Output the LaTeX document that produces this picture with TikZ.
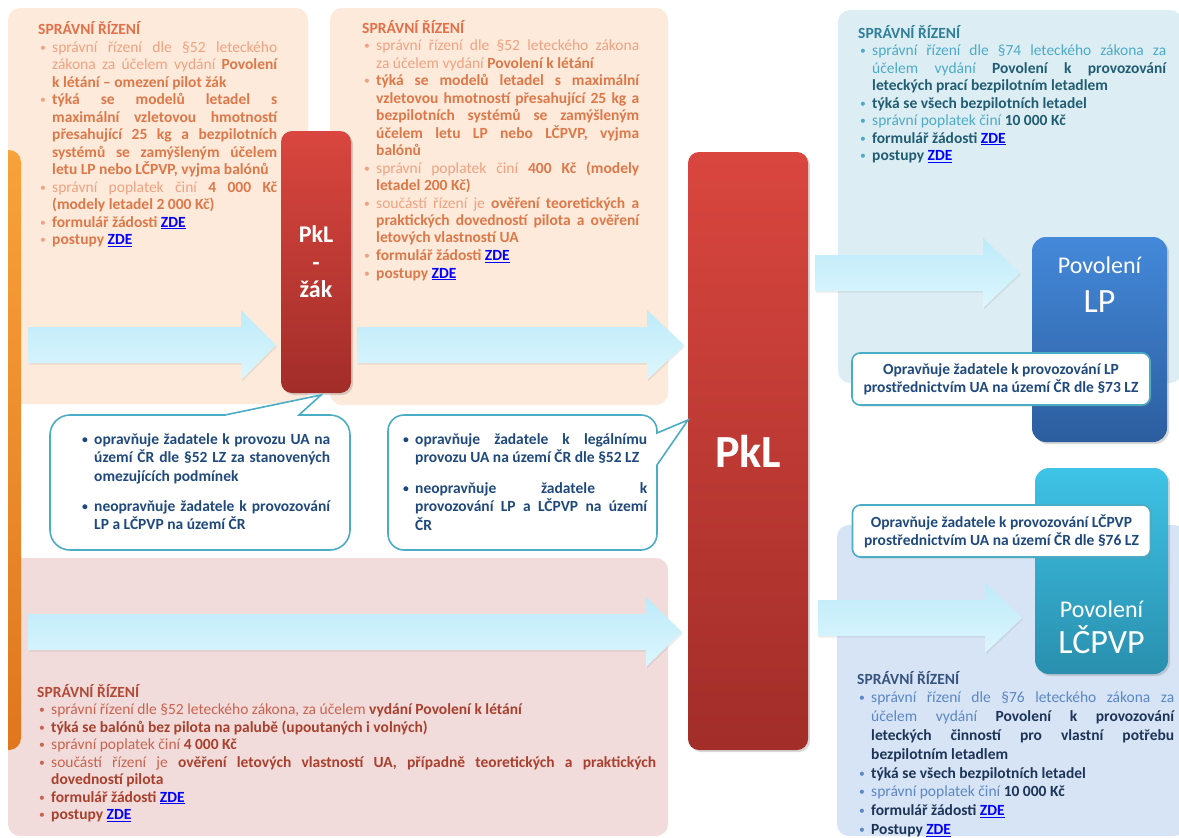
\documentclass[tikz,border=0pt]{standalone}
\usepackage{fontspec}
\setmainfont{Carlito}
\usetikzlibrary{shadows}
\definecolor{peach}{HTML}{FDEADA}
\definecolor{tpanel}{HTML}{DCEEF4}
\definecolor{brpanel}{HTML}{D7E4F6}
\definecolor{blpanel}{HTML}{F2DCDB}
\definecolor{ohead}{HTML}{E2704A}
\definecolor{onorm}{HTML}{F0A282}
\definecolor{obold}{HTML}{DD7849}
\definecolor{rhead}{HTML}{B24A38}
\definecolor{rnorm}{HTML}{C8634F}
\definecolor{rbold}{HTML}{A8402D}
\definecolor{thead}{HTML}{2F7E9A}
\definecolor{tnorm}{HTML}{4DAAC8}
\definecolor{tbold}{HTML}{215D72}
\definecolor{bhead}{HTML}{37537E}
\definecolor{bnorm}{HTML}{5B87C5}
\definecolor{bbold}{HTML}{1C3457}
\definecolor{ctext}{HTML}{1F497D}
\definecolor{linkc}{HTML}{0000FF}
\definecolor{bubbleline}{HTML}{4BACC6}
\definecolor{arrtop}{HTML}{BDEBF9}
\definecolor{arrbot}{HTML}{DDF6FD}
\definecolor{redtop}{HTML}{D9463F}
\definecolor{redbot}{HTML}{A22D29}
\definecolor{lptop}{HTML}{4489DA}
\definecolor{lpbot}{HTML}{2C5E9F}
\definecolor{lctop}{HTML}{3EC3E6}
\definecolor{lcbot}{HTML}{2A8FAE}
\definecolor{ortop}{HTML}{F8A23A}
\definecolor{orbot}{HTML}{E0761E}
\colorlet{headc}{black}
\colorlet{boldc}{black}
\newcommand\bul{\raisebox{0.12ex}{\scalebox{0.75}{\textbullet}}}
\newcommand\itmf{\hangindent=14pt\hangafter=1\makebox[14pt][l]{\hspace{2pt}\bul}}
\newcommand\itm{\par\hangindent=14pt\hangafter=1\noindent\makebox[14pt][l]{\hspace{2pt}\bul}}
\newcommand\hd[1]{{\bfseries\color{headc}#1}\par}
\newcommand\B[1]{{\bfseries\color{boldc}#1}}
\newcommand\zde{{\bfseries\color{linkc}\underline{ZDE}}}
\newcommand\parsetup{\tolerance=10000\hbadness=10000\hyphenpenalty=10000\relax}
\newcommand\barrow[4]{%
  \path[arrowshape] (#1,#4-18) -- (#2,#4-18) -- (#2,#4-35) -- (#3,#4) -- (#2,#4+35) -- (#2,#4+18) -- (#1,#4+18) -- cycle;}
\begin{document}
\begin{tikzpicture}[x=1pt,y=-1pt,
  txt/.style={anchor=base west, inner sep=0pt, text width=#1, align=justify,
    font=\fontsize{15.5}{17.5}\selectfont},
  ocol/.style={text=onorm, execute at begin node={\parsetup\colorlet{headc}{ohead}\colorlet{boldc}{obold}}},
  rcol/.style={text=rnorm, execute at begin node={\parsetup\colorlet{headc}{rhead}\colorlet{boldc}{rbold}}},
  tcol/.style={text=tnorm, execute at begin node={\parsetup\colorlet{headc}{thead}\colorlet{boldc}{tbold}}},
  bcol/.style={text=bnorm, execute at begin node={\parsetup\colorlet{headc}{bhead}\colorlet{boldc}{bbold}}},
  ccol/.style={text=ctext, execute at begin node={\parsetup\bfseries}},
  arrowshape/.style={top color=arrtop, bottom color=arrbot, draw=none,
    drop shadow={opacity=0.15, shadow xshift=1pt, shadow yshift=-1.5pt}},
  redbox/.style={rounded corners=11pt, top color=redtop, bottom color=redbot, draw=none,
    text=white, align=center, drop shadow={opacity=0.3, shadow xshift=2pt, shadow yshift=-2pt}},
  lpbox/.style={rounded corners=14pt, top color=lptop, bottom color=lpbot, draw=none,
    drop shadow={opacity=0.3, shadow xshift=2pt, shadow yshift=-2pt}},
  lcbox/.style={rounded corners=14pt, top color=lctop, bottom color=lcbot, draw=none,
    drop shadow={opacity=0.3, shadow xshift=2pt, shadow yshift=-2pt}},
  boxlabel/.style={anchor=base, text=white, inner sep=0pt},
  bubble/.style={draw=bubbleline, line width=1.6pt, fill=white},
  callbox/.style={draw=bubbleline, line width=1.6pt, fill=white, rounded corners=8pt,
    minimum width=298pt, minimum height=52pt, align=center, text=ctext,
    font=\bfseries\fontsize{15.5}{18}\selectfont,
    drop shadow={opacity=0.25, shadow xshift=1.5pt, shadow yshift=-1.5pt}}
]
\useasboundingbox (0,0) rectangle (1179,838);
\fill[white] (0,0) rectangle (1179,838);

% panels
\fill[peach, rounded corners=12pt] (8,8) rectangle (308,404);
\fill[peach, rounded corners=12pt] (330,8) rectangle (668,405);
\fill[tpanel, rounded corners=12pt] (838,10) rectangle (1182,383);
\fill[blpanel, rounded corners=12pt] (8,558) rectangle (668,836);
\fill[brpanel, rounded corners=12pt] (837,525) rectangle (1186,836);

% orange bar
\begin{scope}
  \clip (8,0) rectangle (60,838);
  \shade[top color=ortop, bottom color=orbot, rounded corners=12pt] (-30,150) rectangle (21,750);
\end{scope}

% block arrows
\barrow{28}{241}{276}{345}
\barrow{357}{647}{684}{345}
\barrow{28}{646}{682}{632}
\barrow{815}{983}{1020}{273}
\barrow{818}{985}{1022}{618}

% boxes
\node[redbox, minimum width=70pt, minimum height=262pt, font=\bfseries\fontsize{24}{27.5}\selectfont] (pkz) at (316,262) {PkL\\-\\žák};
\node[redbox, minimum width=120pt, minimum height=598pt, font=\bfseries\fontsize{46}{46}\selectfont] (pkl) at (748,451) {PkL};
\node[lpbox, minimum width=135pt, minimum height=205pt] (lp) at (1099.5,339.5) {};
\node[boxlabel, font=\fontsize{24}{24}\selectfont] (lpt1) at (1099.5,273) {Povolení};
\node[boxlabel, font=\fontsize{34}{34}\selectfont] (lpt2) at (1099.5,312) {LP};
\node[lcbox, minimum width=133pt, minimum height=206pt] (lc) at (1101.5,571) {};
\node[boxlabel, font=\fontsize{24}{24}\selectfont] (lct1) at (1101.5,617) {Povolení};
\node[boxlabel, font=\fontsize{34}{34}\selectfont] (lct2) at (1101.5,653) {LČPVP};

% speech bubbles
\draw[bubble] (225,415) -- (321,395) -- (299,415) {[rounded corners=20pt] -- (350,415) -- (350,550) -- (50,550) -- (50,415)} -- cycle;
\draw[bubble] (657,433) -- (688,420) -- (657,465) {[rounded corners=16pt] -- (657,550) -- (388,550) -- (388,415) -- (657,415)} -- cycle;

\node[callbox] (lpc) at (1001,379) {Opravňuje žadatele k provozování LP\\prostřednictvím UA na území ČR dle §73 LZ};
\node[callbox] (lcc) at (1001.5,531) {Opravňuje žadatele k provozování LČPVP\\prostřednictvím UA na území ČR dle §76 LZ};

% texts
\node[txt=239pt, ocol] (t1) at (38,34.5) {\hd{SPRÁVNÍ ŘÍZENÍ}%
\itm správní řízení dle §52 leteckého\linebreak zákona za účelem vydání \B{Povolení}\linebreak \B{k létání – omezení pilot žák}
\itm \B{týká se modelů letadel s\linebreak maximální vzletovou hmotností\linebreak přesahující 25 kg a bezpilotních\linebreak systémů se zamýšleným účelem\linebreak letu LP nebo LČPVP, vyjma balónů}
\itm správní poplatek činí \B{4 000 Kč\linebreak (modely letadel 2 000 Kč)}
\itm \B{formulář žádosti} \zde
\itm \B{postupy} \zde\par};

\node[txt=277pt, ocol] (t2) at (362,33) {\hd{SPRÁVNÍ ŘÍZENÍ}%
\itm správní řízení dle §52 leteckého zákona\linebreak za účelem vydání \B{Povolení k létání}
\itm \B{týká se modelů letadel s maximální\linebreak vzletovou hmotností přesahující 25 kg a\linebreak bezpilotních systémů se zamýšleným\linebreak účelem letu LP nebo LČPVP, vyjma\linebreak balónů}
\itm správní poplatek činí \B{400 Kč (modely\linebreak letadel 200 Kč)}
\itm součástí řízení je \B{ověření teoretických a\linebreak praktických dovedností pilota a ověření\linebreak letových vlastností UA}
\itm \B{formulář žádosti} \zde
\itm \B{postupy} \zde\par};

\node[txt=308pt, tcol] (t3) at (858,38) {\hd{SPRÁVNÍ ŘÍZENÍ}%
\itm správní řízení dle §74 leteckého zákona za\linebreak účelem vydání \B{Povolení k provozování\linebreak leteckých prací bezpilotním letadlem}
\itm \B{týká se všech bezpilotních letadel}
\itm správní poplatek činí \B{10 000 Kč}
\itm \B{formulář žádosti} \zde
\itm \B{postupy} \zde\par};

\node[txt=619pt, rcol] (t4) at (37,697) {\hd{SPRÁVNÍ ŘÍZENÍ}%
\itm správní řízení dle §52 leteckého zákona, za účelem \B{vydání Povolení k létání}
\itm \B{týká se balónů bez pilota na palubě (upoutaných i volných)}
\itm správní poplatek činí \B{4 000 Kč}
\itm součástí řízení je \B{ověření letových vlastností UA, případně teoretických a praktických\linebreak dovedností pilota}
\itm \B{formulář žádosti} \zde
\itm \B{postupy} \zde\par};

\node[txt=317pt, bcol, font=\fontsize{15.5}{18.8}\selectfont] (t5) at (857,684) {\hd{SPRÁVNÍ ŘÍZENÍ}%
\itm správní řízení dle §76 leteckého zákona za\linebreak účelem vydání \B{Povolení k provozování\linebreak leteckých činností pro vlastní potřebu\linebreak bezpilotním letadlem}
\itm \B{týká se všech bezpilotních letadel}
\itm správní poplatek činí \B{10 000 Kč}
\itm \B{formulář žádosti} \zde
\itm \B{Postupy} \zde\par};

\node[txt=250pt, ccol, font=\fontsize{15.5}{18.5}\selectfont] (c1) at (80,444) {%
\itmf opravňuje žadatele k provozu UA na\linebreak území ČR dle §52 LZ za stanovených\linebreak omezujících podmínek\par\vspace{11.5pt}%
\itm neopravňuje žadatele k provozování\linebreak LP a LČPVP na území ČR\par};

\node[txt=246pt, ccol, font=\fontsize{15.5}{18.5}\selectfont] (c2) at (401,444) {%
\itmf opravňuje žadatele k legálnímu\linebreak provozu UA na území ČR dle §52 LZ\par\vspace{12pt}%
\itm neopravňuje žadatele k\linebreak provozování LP a LČPVP na území\linebreak ČR\par};
\end{tikzpicture}
\end{document}
